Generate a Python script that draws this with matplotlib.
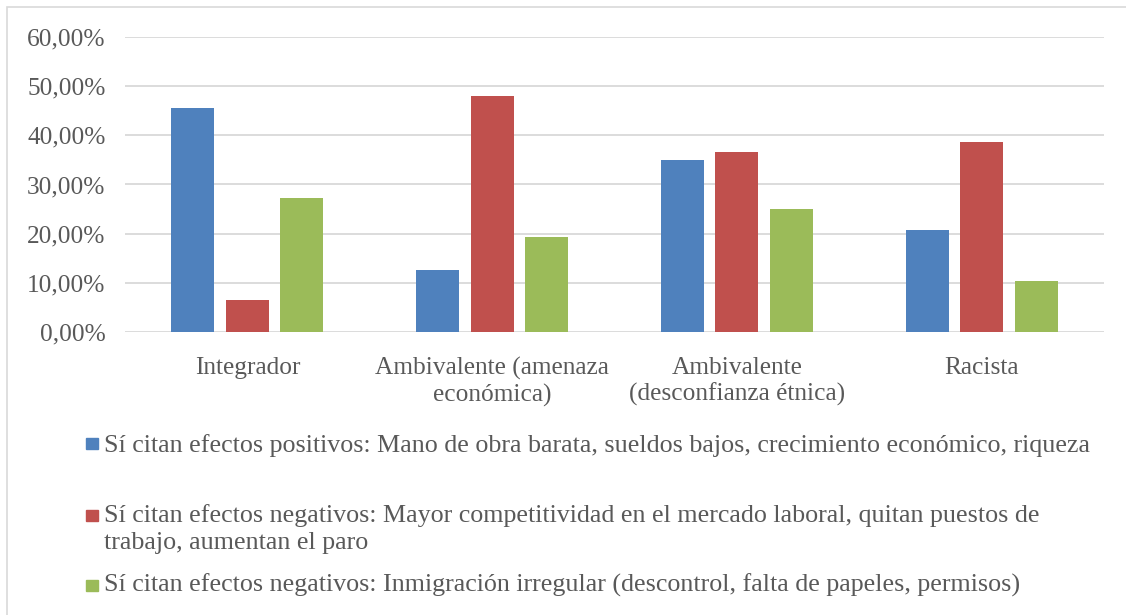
import numpy as np
import matplotlib.pyplot as plt
from matplotlib.patches import Rectangle

# Datos
categorias = ["Integrador", "Ambivalente (amenaza\neconómica)",
              "Ambivalente\n(desconfianza étnica)", "Racista"]
positivos = [45.6, 12.6, 35.0, 20.7]
negativos_laboral = [6.6, 48.0, 36.6, 38.6]
negativos_irregular = [27.2, 19.4, 25.0, 10.4]

series_labels = [
    "Sí citan efectos positivos: Mano de obra barata, sueldos bajos, crecimiento económico, riqueza",
    "Sí citan efectos negativos: Mayor competitividad en el mercado laboral, quitan puestos de\ntrabajo, aumentan el paro",
    "Sí citan efectos negativos: Inmigración irregular (descontrol, falta de papeles, permisos)",
]
colores = ["#4F81BD", "#C0504D", "#9BBB59"]
texto = "#595959"

plt.rcParams['font.family'] = ['Liberation Serif', 'DejaVu Serif']

W, H = 1126, 615
fig = plt.figure(figsize=(W / 100, H / 100), dpi=100)

# marco del grafico
fig.patches.append(Rectangle((7 / W, -0.1), 1.2, 1 - 7 / H + 0.1, transform=fig.transFigure,
                             fill=False, edgecolor="#D9D9D9", linewidth=1.2))

ax = fig.add_axes([125 / W, 1 - 332 / H, (1104 - 125) / W, (332 - 37) / H])

x = np.arange(len(categorias))
ancho = 0.176
paso = 0.223
for i, vals in enumerate([positivos, negativos_laboral, negativos_irregular]):
    ax.bar(x + (i - 1) * paso, vals, width=ancho, color=colores[i], zorder=3)

ax.set_xlim(-0.5, len(categorias) - 0.5)
ax.set_ylim(0, 60)
ax.set_yticks(np.arange(0, 61, 10))
ax.set_yticklabels([f"{v:.2f}%".replace(".", ",") for v in np.arange(0, 61, 10)])
ax.yaxis.grid(True, color="#D9D9D9", linewidth=1.3, zorder=0)
ax.set_xticks(x)
ax.set_xticklabels(categorias, linespacing=1.2)
for s in ax.spines.values():
    s.set_visible(False)
ax.tick_params(axis="both", length=0, labelsize=18.3, colors=texto)
ax.tick_params(axis="y", pad=14)
ax.tick_params(axis="x", pad=18)

# leyenda colocada a mano (estilo Excel)
cuadros = [443.5, 515.5, 585.5]
textos = [446, 504, 585]
for lab, col, yc, yt in zip(series_labels, colores, cuadros, textos):
    fig.patches.append(Rectangle((86 / W, 1 - (yc + 5.5) / H), 12 / W, 11 / H,
                                 transform=fig.transFigure, color=col))
    fig.text(104 / W, 1 - yt / H, lab, fontsize=18.7, color=texto,
             va="top" if "\n" in lab else "center", ha="left", linespacing=1.3)

fig.savefig("out.png", dpi=100)
